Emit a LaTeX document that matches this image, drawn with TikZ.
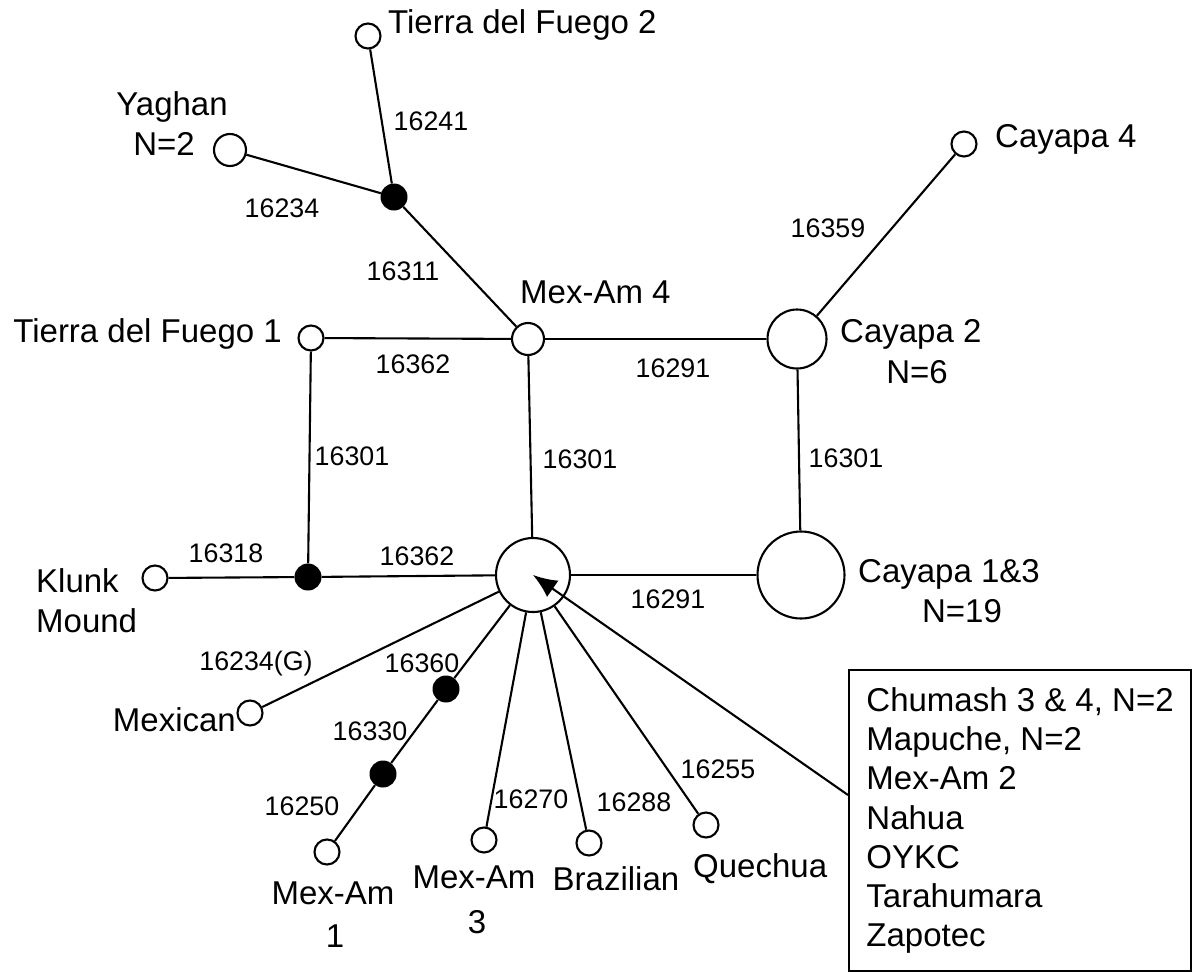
\documentclass[tikz,border=0pt]{standalone}
\usepackage{fontspec}
\setmainfont{Liberation Sans}
\usetikzlibrary{arrows.meta}
\begin{document}
\begin{tikzpicture}[x=1pt,y=-1pt,
  hap/.style={circle,draw,line width=2.1pt,fill=white,inner sep=0pt,minimum size=#1},
  hap/.default=25pt,
  med/.style={circle,fill=black,inner sep=0pt,minimum size=27pt},
  lbl/.style={font=\fontsize{33}{39.3}\selectfont,inner sep=0pt},
  mut/.style={font=\fontsize{26.8}{30}\selectfont,inner sep=0pt},
  conn/.style={line width=2.1pt}]
\useasboundingbox (0,0) rectangle (1192,972);

% haplotype nodes
\node[hap] (tdf2) at (368,36) {};
\node[hap=32pt] (yag) at (230,150) {};
\node[med] (bA) at (394,197) {};
\node[hap] (cay4) at (964,144) {};
\node[hap=32pt] (mx4) at (528,339) {};
\node[hap] (tdf1) at (311,338) {};
\node[hap=59pt] (cay2) at (797,339) {};
\node[hap=74pt] (cen) at (533,575) {};
\node[hap=87pt] (cay13) at (801,575) {};
\node[med] (bB) at (308,577) {};
\node[hap] (klunk) at (155,578) {};
\node[hap] (mexican) at (250,713) {};
\node[med] (bC) at (446,689) {};
\node[med] (bD) at (383,774) {};
\node[hap] (mx1) at (327,852) {};
\node[hap] (mx3) at (484,840) {};
\node[hap] (braz) at (589,843) {};
\node[hap] (que) at (706,825) {};

% list box
\node[lbl,draw,line width=2.1pt,anchor=north west,minimum width=342pt,minimum height=301pt,align=left] (box) at (848,669)
  {Chumash 3 \& 4, N=2\\Mapuche, N=2\\Mex-Am 2\\Nahua\\OYKC\\Tarahumara\\Zapotec};
\coordinate (bx) at (848,795);

% connectors
\draw[conn] (tdf2) -- (bA);
\draw[conn] (yag) -- (bA);
\draw[conn] (bA) -- (mx4);
\draw[conn] (tdf1) -- (mx4);
\draw[conn] (mx4) -- (cay2);
\draw[conn] (cay4) -- (cay2);
\draw[conn] (tdf1) -- (bB);
\draw[conn] (mx4) -- (cen);
\draw[conn] (cay2) -- (cay13);
\draw[conn] (klunk) -- (bB);
\draw[conn] (bB) -- (cen);
\draw[conn] (cen) -- (cay13);
\draw[conn] (mexican) -- (cen);
\draw[conn] (cen) -- (bC);
\draw[conn] (bC) -- (bD);
\draw[conn] (bD) -- (mx1);
\draw[conn] (cen) -- (mx3);
\draw[conn] (cen) -- (braz);
\draw[conn] (cen) -- (que);
\draw[conn,-{Latex[length=24pt,width=20pt]}] (bx) -- (cen.center);

% names
\node[lbl,anchor=base west] (ltdf2) at (388,33) {Tierra del Fuego 2};
\node[lbl,anchor=base] (lyag) at (172,115) {Yaghan};
\node[lbl,anchor=base] (lyagn) at (164,155) {N=2};
\node[lbl,anchor=base west] (lcay4) at (995,147) {Cayapa 4};
\node[lbl,anchor=base west] (lmx4) at (520,303) {Mex-Am 4};
\node[lbl,anchor=base east] (ltdf1) at (282,342) {Tierra del Fuego 1};
\node[lbl,anchor=base west] (lcay2) at (840,342) {Cayapa 2};
\node[lbl,anchor=base] (lcay2n) at (917,383) {N=6};
\node[lbl,anchor=base west] (lcay13) at (858,582) {Cayapa 1\&3};
\node[lbl,anchor=base] (lcay13n) at (962,622) {N=19};
\node[lbl,anchor=base west] (lklunk) at (36,592) {Klunk};
\node[lbl,anchor=base west] (lmound) at (36,632) {Mound};
\node[lbl,anchor=base east] (lmexican) at (236,731) {Mexican};
\node[lbl,anchor=base] (lmx1) at (333,904) {Mex-Am};
\node[lbl,anchor=base] (lmx1b) at (335,947) {1};
\node[lbl,anchor=base] (lmx3) at (474,888) {Mex-Am};
\node[lbl,anchor=base] (lmx3b) at (477,933) {3};
\node[lbl,anchor=base] (lbraz) at (616,890) {Brazilian};
\node[lbl,anchor=base west] (lque) at (693,877) {Quechua};

% mutation labels
\node[mut,anchor=base] (m1) at (431,130) {16241};
\node[mut,anchor=base] (m2) at (282,217) {16234};
\node[mut,anchor=base] (m3) at (403,280) {16311};
\node[mut,anchor=base] (m4) at (413,373) {16362};
\node[mut,anchor=base] (m5) at (673,377) {16291};
\node[mut,anchor=base] (m6) at (828,237) {16359};
\node[mut,anchor=base] (m7) at (352,465) {16301};
\node[mut,anchor=base] (m8) at (580,468) {16301};
\node[mut,anchor=base] (m9) at (846,467) {16301};
\node[mut,anchor=base] (m10) at (226,562) {16318};
\node[mut,anchor=base] (m11) at (417,565) {16362};
\node[mut,anchor=base] (m12) at (668,608) {16291};
\node[mut,anchor=base] (m13) at (256,670) {16234(G)};
\node[mut,anchor=base] (m14) at (422,672) {16360};
\node[mut,anchor=base] (m15) at (370,740) {16330};
\node[mut,anchor=base] (m16) at (302,815) {16250};
\node[mut,anchor=base] (m17) at (531,808) {16270};
\node[mut,anchor=base] (m18) at (634,811) {16288};
\node[mut,anchor=base] (m19) at (718,778) {16255};
\end{tikzpicture}
\end{document}
